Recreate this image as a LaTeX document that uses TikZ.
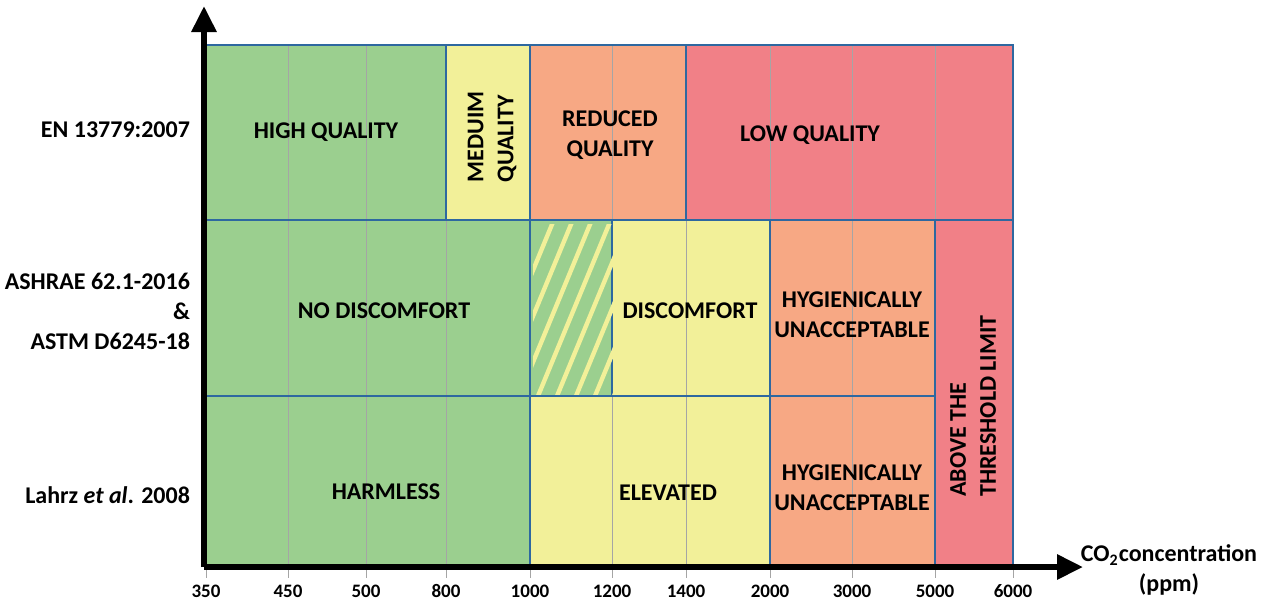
\documentclass[tikz,border=0pt]{standalone}
\usepackage{fontspec}
\setmainfont{Carlito}
\usetikzlibrary{arrows.meta}
\definecolor{okgreen}{RGB}{155,207,143}
\definecolor{midyellow}{RGB}{242,240,153}
\definecolor{warnorange}{RGB}{247,168,132}
\definecolor{badred}{RGB}{241,128,135}
\definecolor{zoneblue}{RGB}{46,104,160}
\definecolor{gridgray}{RGB}{165,165,165}
\tikzset{>={Triangle[length=13pt,width=12pt]}}

\begin{document}
\begin{tikzpicture}[x=0.5pt,y=-0.5pt,
    zone/.style={draw=zoneblue,line width=1.4pt},
    lbl/.style={font=\bfseries\fontsize{12}{15}\selectfont,align=center},
    ticklbl/.style={font=\bfseries\fontsize{9.5}{11}\selectfont}]
      \useasboundingbox (0,0) rectangle (1273,601);
      % fills
      \fill[okgreen] (206,45) rectangle (446,220);
      \fill[midyellow] (446,45) rectangle (530,220);
      \fill[warnorange] (530,45) rectangle (686,220);
      \fill[badred] (686,45) rectangle (1013,220);
      \fill[okgreen] (206,220) rectangle (612,396);
      \fill[midyellow] (612,220) rectangle (770,396);
      \fill[warnorange] (770,220) rectangle (935,566);
      \fill[badred] (935,220) rectangle (1013,566);
      \fill[okgreen] (206,396) rectangle (530,566);
      \fill[midyellow] (530,396) rectangle (770,566);
      % grid
      \foreach \x in {206,288,366,446,530,612,686,770,852,935,1013}
        \draw[gridgray,line width=0.5pt] (\x,45) -- (\x,578);
      % zones
      \draw[zone] (206,45) rectangle (446,220);
      \draw[zone] (446,45) rectangle (530,220);
      \draw[zone] (530,45) rectangle (686,220);
      \draw[zone] (686,45) rectangle (1013,220);
      \draw[zone] (206,220) rectangle (530,396);
      \draw[zone] (530,220) rectangle (612,396);
      \draw[zone] (612,220) rectangle (770,396);
      \draw[zone] (770,220) rectangle (935,396);
      \draw[zone] (935,220) rectangle (1013,566);
      \draw[zone] (206,396) rectangle (530,566);
      \draw[zone] (530,396) rectangle (770,566);
      \draw[zone] (770,396) rectangle (935,566);
      % hatching
      \begin{scope}
        \clip (533,224) rectangle (614,394);
        \foreach \t in {553,572,...,690}
          \draw[midyellow,line width=2.2pt] (\t-72,396) -- (\t,222);
      \end{scope}
      % axes
      \coordinate (o) at (204,567);
      \coordinate (ytip) at (204,6);
      \coordinate (xtip) at (1083,567);
      \draw[->,line width=3pt] (o) -- (ytip);
      \draw[->,line width=3pt] (o) -- (xtip);
      % zone labels
      \node[lbl] (highq) at (326,132) {HIGH QUALITY};
      \node[lbl,rotate=90,align=left] (medq) at (492,137) {MEDUIM\\QUALITY};
      \node[lbl] (redq) at (610,135) {REDUCED\\QUALITY};
      \node[lbl] (lowq) at (810,135) {LOW QUALITY};
      \node[lbl] (nodisc) at (384,311) {NO DISCOMFORT};
      \node[lbl] (disc) at (690,311) {DISCOMFORT};
      \node[lbl] (hygA) at (852,315) {HYGIENICALLY\\UNACCEPTABLE};
      \node[lbl,rotate=90,align=left] (thresh) at (973,406) {ABOVE THE\\THRESHOLD LIMIT};
      \node[lbl] (harmless) at (386,492) {HARMLESS};
      \node[lbl] (elev) at (668,493) {ELEVATED};
      \node[lbl] (hygB) at (852,488) {HYGIENICALLY\\UNACCEPTABLE};
      % standards
      \node[lbl,anchor=east] (en) at (197,130) {EN 13779:2007};
      \node[lbl,anchor=east,align=right] (ashrae) at (197,311) {ASHRAE 62.1-2016\\ \&\hspace{37pt}\\ ASTM D6245-18};
      \node[lbl,anchor=east] (lahrz) at (197,495) {Lahrz \textit{et al}. 2008};
      % ticks
      \foreach \x/\v in {206/350,288/450,366/500,446/800,530/1000,612/1200,686/1400,770/2000,852/3000,935/5000,1013/6000}
        \node[ticklbl] (t\v) at (\x,591) {\v};
      \node[lbl] (xlbl) at (1169,570) {CO\textsubscript{2}concentration\\(ppm)};
\end{tikzpicture}
\end{document}
